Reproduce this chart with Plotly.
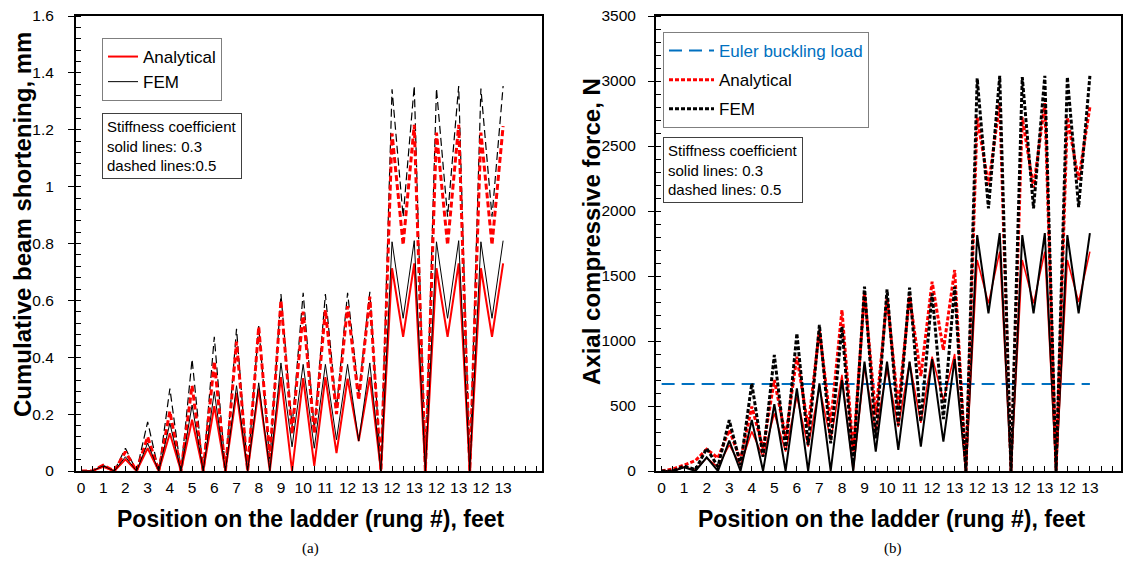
import plotly.graph_objects as go

W, H = 1123, 571
FONT = "Liberation Sans, Arial, sans-serif"

# step positions along the climb (peak at each rung, unloading between rungs)
STEPS = [0, 0.5, 1, 1.5, 2, 2.5, 3, 3.5, 4, 4.5, 5, 5.5, 6, 6.5, 7, 7.5, 8, 8.5, 9, 9.5,
         10, 10.5, 11, 11.5, 12, 12.5, 13, 13.5, 14, 14.5, 15, 15.5, 16, 16.5, 17, 17.5,
         18, 18.5, 19]
X_TICK_POS = [0, 1, 2, 3, 4, 5, 6, 7, 8, 9, 10, 11, 12, 13, 14, 15, 16, 17, 18, 19]
X_TICK_LABELS = ["0", "1", "2", "3", "4", "5", "6", "7", "8", "9", "10", "11", "12", "13",
                 "12", "13", "12", "13", "12", "13"]

# (a) cumulative beam shortening, mm
A_ANALYTICAL_03 = [0, 0, 0.015, 0, 0.041, 0, 0.08, 0, 0.133, 0, 0.18, 0, 0.228, 0, 0.275, 0,
                   0.29, 0, 0.33, 0, 0.327, 0.018, 0.33, 0.063, 0.325, 0.105, 0.33, 0,
                   0.713, 0.472, 0.73, 0, 0.713, 0.472, 0.73, 0, 0.713, 0.472, 0.73]
A_FEM_03 = [0, 0, 0.018, 0, 0.05, 0, 0.098, 0, 0.168, 0, 0.232, 0, 0.279, 0, 0.30, 0,
            0.31, 0, 0.38, 0.085, 0.375, 0.08, 0.375, 0.11, 0.375, 0.105, 0.38, 0,
            0.806, 0.537, 0.81, 0, 0.806, 0.537, 0.81, 0, 0.806, 0.537, 0.81]
A_ANALYTICAL_05 = [0, 0, 0.02, 0, 0.068, 0, 0.12, 0, 0.21, 0, 0.30, 0, 0.385, 0, 0.455, 0,
                   0.507, 0.05, 0.60, 0.13, 0.56, 0.133, 0.566, 0.2, 0.58, 0.25, 0.613, 0,
                   1.187, 0.795, 1.217, 0, 1.19, 0.795, 1.217, 0, 1.19, 0.795, 1.213]
A_FEM_05 = [0, 0, 0.02, 0, 0.08, 0, 0.173, 0, 0.29, 0, 0.393, 0, 0.472, 0, 0.50, 0,
            0.51, 0.03, 0.622, 0.155, 0.627, 0.145, 0.622, 0.22, 0.627, 0.27, 0.63, 0,
            1.342, 0.894, 1.354, 0, 1.345, 0.894, 1.354, 0, 1.345, 0.894, 1.354]
A_Y_TICKS = [0, 0.2, 0.4, 0.6, 0.8, 1.0, 1.2, 1.4, 1.6]
A_Y_LABELS = ["0", "0.2", "0.4", "0.6", "0.8", "1", "1.2", "1.4", "1.6"]

# (b) axial compressive force, N
B_ANALYTICAL_03 = [0, 0, 30, 10, 100, 30, 200, 45, 303, 110, 443, 150, 572, 187, 649, 238,
                   740, 0, 800, 300, 780, 340, 840, 370, 880, 546, 900, 0,
                   1623, 1290, 1687, 0, 1623, 1290, 1687, 0, 1623, 1300, 1687]
B_FEM_03 = [0, 0, 28, 0, 105, 0, 233, 0, 392, 0, 515, 0, 636, 0, 674, 0,
            700, 0, 841, 149, 841, 162, 841, 187, 860, 226, 860, 0,
            1815, 1213, 1830, 0, 1815, 1213, 1830, 0, 1815, 1213, 1830]
B_ANALYTICAL_05 = [0, 15, 46, 80, 167, 100, 315, 85, 495, 174, 700, 264, 879, 341, 1080, 367,
                   1238, 150, 1367, 430, 1328, 495, 1340, 730, 1456, 930, 1546, 0,
                   2720, 2200, 2830, 0, 2720, 2180, 2830, 0, 2720, 2240, 2800]
B_FEM_05 = [0, 0, 38, 10, 174, 33, 392, 46, 674, 110, 892, 162, 1059, 200, 1123, 213,
            1110, 60, 1418, 250, 1397, 350, 1410, 380, 1367, 400, 1418, 0,
            3020, 2020, 3040, 0, 3030, 2020, 3040, 0, 3030, 2030, 3040]
EULER_X = [0, 19]
EULER_LOAD = [670, 670]
B_Y_TICKS = [0, 500, 1000, 1500, 2000, 2500, 3000, 3500]
B_Y_LABELS = ["0", "500", "1000", "1500", "2000", "2500", "3000", "3500"]

RED = "#FF0000"
BLACK = "#000000"
BLUE = "#0070C0"

fig = go.Figure()

# ---- panel (a)
fig.add_trace(go.Scatter(x=STEPS, y=A_FEM_05, mode="lines", xaxis="x", yaxis="y",
                         line=dict(color=BLACK, width=1.2, dash="8px,4px"), showlegend=False))
fig.add_trace(go.Scatter(x=STEPS, y=A_ANALYTICAL_05, mode="lines", xaxis="x", yaxis="y",
                         line=dict(color=RED, width=3, dash="6px,3px"), showlegend=False))
fig.add_trace(go.Scatter(x=STEPS, y=A_ANALYTICAL_03, mode="lines", xaxis="x", yaxis="y",
                         name="Analytical", legend="legend", legendgroup="a1",
                         line=dict(color=RED, width=2)))
fig.add_trace(go.Scatter(x=STEPS, y=A_FEM_03, mode="lines", xaxis="x", yaxis="y",
                         name="FEM", legend="legend", legendgroup="a2",
                         line=dict(color=BLACK, width=1)))

# ---- panel (b)
fig.add_trace(go.Scatter(x=EULER_X, y=EULER_LOAD, mode="lines", xaxis="x2", yaxis="y2",
                         name="<span style='color:%s'>Euler buckling load</span>" % BLUE,
                         legend="legend2", legendgroup="b1",
                         line=dict(color=BLUE, width=2, dash="13px,7px")))
fig.add_trace(go.Scatter(x=STEPS, y=B_ANALYTICAL_03, mode="lines", xaxis="x2", yaxis="y2",
                         line=dict(color=RED, width=1.5), showlegend=False))
fig.add_trace(go.Scatter(x=STEPS, y=B_FEM_03, mode="lines", xaxis="x2", yaxis="y2",
                         line=dict(color=BLACK, width=2), showlegend=False))
fig.add_trace(go.Scatter(x=STEPS, y=B_ANALYTICAL_05, mode="lines", xaxis="x2", yaxis="y2",
                         name="Analytical", legend="legend2", legendgroup="b2",
                         line=dict(color=RED, width=3, dash="4px,2px")))
fig.add_trace(go.Scatter(x=STEPS, y=B_FEM_05, mode="lines", xaxis="x2", yaxis="y2",
                         name="FEM", legend="legend2", legendgroup="b3",
                         line=dict(color=BLACK, width=3, dash="4px,2px")))

y_dom = [1 - 471 / H, 1 - 16 / H]
TICK_FONT = dict(family=FONT, size=15.5, color=BLACK)
common_x = dict(tickmode="array", tickvals=X_TICK_POS, ticktext=X_TICK_LABELS,
                ticks="inside", ticklen=5, tickwidth=1, tickcolor=BLACK,
                minor=dict(tickmode="linear", tick0=0, dtick=0.5, ticks="inside",
                           ticklen=5, tickwidth=1, tickcolor=BLACK),
                showline=True, linewidth=2, linecolor=BLACK, mirror=True,
                showgrid=False, zeroline=False, ticklabelstandoff=1, automargin=False,
                tickfont=TICK_FONT)
common_y = dict(tickmode="array", ticks="outside", ticklen=6, tickwidth=1, tickcolor=BLACK,
                showline=True, linewidth=2, linecolor=BLACK, mirror=True,
                showgrid=False, zeroline=False, automargin=False, tickfont=TICK_FONT)

fig.update_layout(
    template="none",
    width=W, height=H,
    margin=dict(l=0, r=0, t=0, b=0, pad=0, autoexpand=False),
    paper_bgcolor="white", plot_bgcolor="white",
    font=dict(family=FONT, color=BLACK),
    xaxis=dict(domain=[76 / W, 542 / W], range=[-0.225, 20.75], anchor="y", **common_x),
    yaxis=dict(domain=y_dom, range=[0, 1.6], anchor="x", tickvals=A_Y_TICKS,
               ticktext=A_Y_LABELS, ticklabelstandoff=11,
               minor=dict(tickmode="linear", tick0=0, dtick=0.04, ticks="inside",
                          ticklen=5, tickwidth=1, tickcolor=BLACK), **common_y),
    xaxis2=dict(domain=[656 / W, 1121 / W], range=[-0.25, 20.38], anchor="y2", **common_x),
    yaxis2=dict(domain=y_dom, range=[0, 3500], anchor="x2", tickvals=B_Y_TICKS,
                ticktext=B_Y_LABELS, ticklabelstandoff=9,
                minor=dict(tickmode="linear", tick0=0, dtick=100, ticks="inside",
                           ticklen=5, tickwidth=1, tickcolor=BLACK), **common_y),
    legend=dict(x=102 / W, y=1 - 38 / H, xanchor="left", yanchor="top",
                bordercolor="#7F7F7F", borderwidth=1, bgcolor="white",
                font=dict(family=FONT, size=17, color=BLACK), itemwidth=30,
                tracegroupgap=0),
    legend2=dict(x=663 / W, y=1 - 32 / H, xanchor="left", yanchor="top",
                 bordercolor="#7F7F7F", borderwidth=1, bgcolor="white",
                 font=dict(family=FONT, size=17, color=BLACK), itemwidth=45,
                 tracegroupgap=4),
)

TITLE_FONT = dict(family=FONT, size=23, color=BLACK)
YTITLE_FONT = dict(family=FONT, size=24, color=BLACK)
SERIF = dict(family="Liberation Serif, Times New Roman, serif", size=15, color=BLACK)
ann = []
ann.append(dict(text="<b>Cumulative beam shortening, mm</b>", x=22 / W, y=1 - 225 / H,
                textangle=-90, font=YTITLE_FONT))
ann.append(dict(text="<b>Axial compressive force, N</b>", x=591 / W, y=1 - 232 / H,
                textangle=-90, font=YTITLE_FONT))
ann.append(dict(text="<b>Position on the ladder (rung #), feet</b>", x=311 / W, y=1 - 519 / H,
                font=TITLE_FONT))
ann.append(dict(text="<b>Position on the ladder (rung #), feet</b>", x=892 / W, y=1 - 519 / H,
                font=TITLE_FONT))
ann.append(dict(text="(a)", x=310 / W, y=1 - 548 / H, font=SERIF))
ann.append(dict(text="(b)", x=893 / W, y=1 - 548 / H, font=SERIF))
for a in ann:
    a.update(xref="paper", yref="paper", showarrow=False, xanchor="center", yanchor="middle")

BOX_FONT = dict(family=FONT, size=15, color=BLACK)
ann.append(dict(text="Stiffness coefficient<br>solid lines: 0.3<br>dashed lines:0.5",
                x=102 / W, y=1 - 113 / H, xref="paper", yref="paper", xanchor="left",
                yanchor="top", align="left", showarrow=False, bgcolor="white",
                bordercolor="#404040", borderwidth=1, borderpad=4, font=BOX_FONT))
ann.append(dict(text="Stiffness coefficient<br>solid lines: 0.3<br>dashed lines: 0.5",
                x=663 / W, y=1 - 137 / H, xref="paper", yref="paper", xanchor="left",
                yanchor="top", align="left", showarrow=False, bgcolor="white",
                bordercolor="#404040", borderwidth=1, borderpad=4, font=BOX_FONT))
fig.update_layout(annotations=ann)

fig.write_html("out.html", config={"displayModeBar": False},
               post_script="document.body.style.margin='0px';")
